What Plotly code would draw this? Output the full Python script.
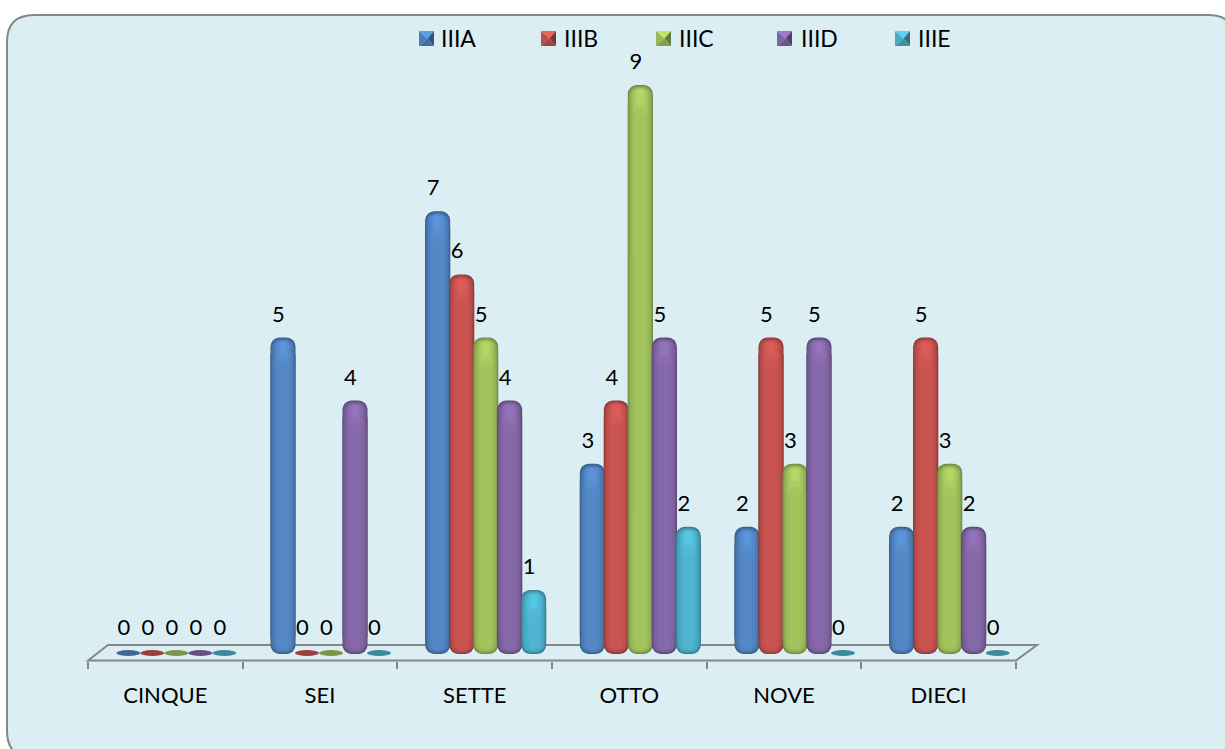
"""Grouped bar chart of grades by class, drawn with bevelled rounded columns."""

import numpy as np
import plotly.graph_objects as go

categories = ["CINQUE", "SEI", "SETTE", "OTTO", "NOVE", "DIECI"]
series_names = ["IIIA", "IIIB", "IIIC", "IIID", "IIIE"]
iiia = [0, 5, 7, 3, 2, 2]
iiib = [0, 0, 6, 4, 5, 5]
iiic = [0, 0, 5, 9, 3, 3]
iiid = [0, 4, 4, 5, 5, 2]
iiie = [0, 0, 1, 2, 0, 0]
series_values = [iiia, iiib, iiic, iiid, iiie]
series_colors = ["#4F81BD", "#C0504D", "#9BBB59", "#8064A2", "#4BACC6"]

W, H = 1225, 749
PLOT_LEFT, PLOT_RIGHT = 88, 1016
PLOT_TOP, PLOT_BOTTOM = 20, 660.5
ZERO_PX = 653
PX_PER_UNIT = 63.1
PX_PER_CAT = (PLOT_RIGHT - PLOT_LEFT) / len(categories)

DEPTH_SHIFT = 11 / PX_PER_CAT  # columns stand on the floor, behind the axis
BAR_PITCH = 24 / PX_PER_CAT
LABEL_SHIFT = -4.5 / PX_PER_CAT
LABEL_LIFT = 21.5 / PX_PER_UNIT
ZERO_LABEL_LIFT = 23.5 / PX_PER_UNIT
BAR_SINK = 1 / PX_PER_UNIT

# (width px, inset px, corner px, brightness) from the edge to the centre of a column
BEVEL = [
    (25, 0, 9, 0.70),
    (24, 0.5, 9, 0.78),
    (23, 1, 9, 0.86),
    (21, 2, 8, 0.93),
    (19, 3, 7, 0.98),
    (15, 4, 6, 1.02),
    (10, 5, 4, 1.05),
]
# (width px, length px, inset px, brightness) of the sheen under the rounded top
SHEEN = [(15, 28, 3, 1.06), (11, 20, 4, 1.10), (7, 13, 5, 1.15)]

LEGEND_SWATCH_X = [419, 541, 656, 777, 895]
LEGEND_TEXT_X = [439, 562, 677, 799, 916]
FONT = "Lato, 'Open Sans', sans-serif"
INK = "#000000"
GREY = "#868686"


def shade(color, factor):
    """Scale a hex colour, clipping at white."""
    rgb = [int(color[i : i + 2], 16) for i in (1, 3, 5)]
    return "rgb({},{},{})".format(*[min(255, round(c * factor)) for c in rgb])


def px(x):
    return x / W


def py(y):
    return 1 - y / H


def paper_path(points):
    return "M " + " L ".join(f"{px(x):.5f},{py(y):.5f}" for x, y in points) + " Z"


def column_piece(x, base, length, width_px, corner, color, name):
    """One rounded piece of a column; only the end away from its base is rounded."""
    return go.Bar(
        x=x,
        y=length,
        base=base,
        width=width_px / PX_PER_CAT,
        name=name,
        legendgroup=name,
        showlegend=False,
        hoverinfo="skip",
        marker=dict(color=color, line_width=0, cornerradius=corner),
    )


fig = go.Figure()
positions = np.arange(len(categories))
shapes = []

# Panel behind everything; it runs off the right and bottom of the page.
shapes.append(
    dict(
        type="path",
        xref="paper",
        yref="paper",
        layer="below",
        path=(
            f"M {px(7)},{py(42)} Q {px(7)},{py(15)} {px(34)},{py(15)} "
            f"L {px(1208)},{py(15)} Q {px(1236)},{py(15)} {px(1236)},{py(43)} "
            f"L {px(1236)},{py(730)} Q {px(1236)},{py(758)} {px(1208)},{py(758)} "
            f"L {px(34)},{py(758)} Q {px(7)},{py(758)} {px(7)},{py(731)} Z"
        ),
        fillcolor="#DBEEF4",
        line=dict(color=GREY, width=2),
    )
)

# Floor of the 3-D plot.
shapes.append(
    dict(
        type="path",
        xref="paper",
        yref="paper",
        layer="below",
        path=paper_path([(PLOT_LEFT, 660.5), (108, 645), (1037, 645), (PLOT_RIGHT, 660.5)]),
        line=dict(color=GREY, width=2),
    )
)

for s, (name, values, color) in enumerate(zip(series_names, series_values, series_colors)):
    centers = positions + DEPTH_SHIFT + (s - 2) * BAR_PITCH
    drawn = np.array([v if v > 0 else np.nan for v in values], dtype=float)

    for width_px, inset_px, corner, factor in BEVEL:
        inset = inset_px / PX_PER_UNIT
        reach = corner / PX_PER_UNIT
        top = drawn - inset
        bottom = inset - BAR_SINK
        piece_color = shade(color, factor)
        # Rising piece rounds the top, falling piece rounds the foot.
        fig.add_trace(
            column_piece(centers, bottom + reach, top - bottom - reach, width_px, corner, piece_color, name)
        )
        fig.add_trace(
            column_piece(centers, top - reach, bottom - top + reach, width_px, corner, piece_color, name)
        )

    for width_px, length_px, inset_px, factor in SHEEN:
        top = drawn - inset_px / PX_PER_UNIT
        fig.add_trace(
            column_piece(
                centers,
                top - length_px / PX_PER_UNIT,
                np.full(len(values), length_px / PX_PER_UNIT) * (drawn > 0),
                width_px,
                width_px / 2 - 1,
                shade(color, factor),
                name,
            )
        )

    fig.add_trace(
        go.Scatter(
            x=centers + LABEL_SHIFT,
            y=[v + (LABEL_LIFT if v else ZERO_LABEL_LIFT) for v in values],
            mode="text",
            text=[str(v) for v in values],
            textposition="middle center",
            textfont=dict(family=FONT, size=22, color=INK),
            cliponaxis=False,
            name=name,
            legendgroup=name,
            showlegend=False,
            customdata=values,
            hovertemplate=name + ": %{customdata}<extra></extra>",
        )
    )

    # Empty columns show as a flat disc on the floor.
    for center, value in zip(centers, values):
        if value == 0:
            shapes.append(
                dict(
                    type="circle",
                    xref="x",
                    yref="y",
                    x0=center - 12 / PX_PER_CAT,
                    x1=center + 12 / PX_PER_CAT,
                    y0=-3 / PX_PER_UNIT,
                    y1=3 / PX_PER_UNIT,
                    fillcolor=shade(color, 0.8),
                    line_width=0,
                )
            )

    # Legend swatch: a small square pyramid seen from above.
    left, top_px, size = LEGEND_SWATCH_X[s], 31, 15
    right, foot = left + size, top_px + size
    apex = (left + size / 2 + 1, top_px + size / 2)
    faces = [
        ([(left, top_px), (left, foot), apex], 0.98),
        ([(left, top_px), (right, top_px), apex], 1.22),
        ([(right, top_px), (right, foot), apex], 0.65),
        ([(left, foot), (right, foot), apex], 0.85),
    ]
    for points, factor in faces:
        shapes.append(
            dict(
                type="path",
                xref="paper",
                yref="paper",
                path=paper_path(points),
                fillcolor=shade(color, factor),
                line_width=0,
            )
        )

annotations = [
    dict(
        x=px(text_x),
        y=py(38),
        xref="paper",
        yref="paper",
        xanchor="left",
        yanchor="middle",
        text=name,
        showarrow=False,
        font=dict(family=FONT, size=23, color=INK),
    )
    for name, text_x in zip(series_names, LEGEND_TEXT_X)
]

fig.update_layout(
    width=W,
    height=H,
    margin=dict(l=0, r=0, t=0, b=0),
    paper_bgcolor="white",
    plot_bgcolor="rgba(0,0,0,0)",
    barmode="overlay",
    showlegend=False,
    shapes=shapes,
    annotations=annotations,
    xaxis=dict(
        domain=[px(PLOT_LEFT), px(PLOT_RIGHT)],
        range=[-0.5, len(categories) - 0.5],
        tickmode="array",
        tickvals=positions,
        ticktext=categories,
        ticks="",
        showgrid=False,
        zeroline=False,
        showline=False,
        ticklabelstandoff=19,
        tickfont=dict(family=FONT, size=22, color=INK),
        minor=dict(
            tickmode="array",
            tickvals=np.arange(len(categories) + 1) - 0.5,
            ticks="outside",
            ticklen=7,
            tickwidth=2,
            tickcolor=GREY,
            showgrid=False,
        ),
    ),
    yaxis=dict(
        domain=[py(PLOT_BOTTOM), py(PLOT_TOP)],
        range=[-(PLOT_BOTTOM - ZERO_PX) / PX_PER_UNIT, (ZERO_PX - PLOT_TOP) / PX_PER_UNIT],
        visible=False,
    ),
)

fig.write_html(
    "out.html",
    config={"displayModeBar": False},
    post_script="document.body.style.margin='0';document.body.style.overflow='hidden';",
)
